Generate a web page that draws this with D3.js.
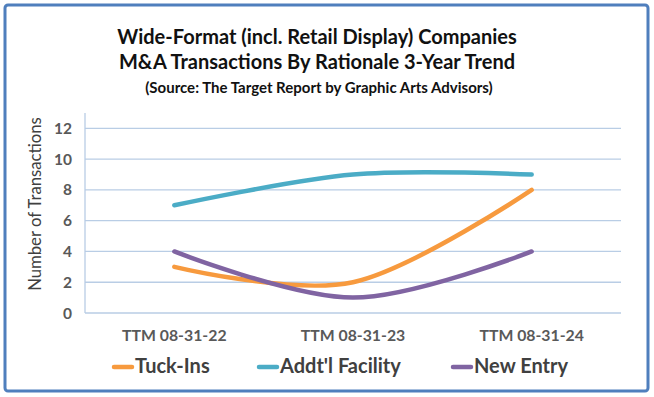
<!DOCTYPE html>
<html>
<head>
<meta charset="utf-8">
<script src="https://cdn.jsdelivr.net/npm/d3@7"></script>
<style>
  body { margin: 0; background: #fff; }
  svg { display: block; font-family: Lato, "Open Sans", sans-serif; }
</style>
</head>
<body>
<svg id="chart" width="654" height="397"></svg>
<script>
var categories = ["TTM 08-31-22", "TTM 08-31-23", "TTM 08-31-24"];
var seriesNames = ["Tuck-Ins", "Addt'l Facility", "New Entry"];
var tuckIns = [3, 2, 8];
var addtlFacility = [7, 9, 9];
var newEntry = [4, 1, 4];
var yTicks = [0, 2, 4, 6, 8, 10, 12];

var seriesVals = [tuckIns, addtlFacility, newEntry];
var colors = ["#f79a3e", "#4bacc6", "#8064a2"];

var svg = d3.select("#chart");

// outer frame
svg.append("rect")
	.attr("x", 5).attr("y", 5)
	.attr("width", 643).attr("height", 386)
	.attr("rx", 3)
	.attr("fill", "#fff")
	.attr("stroke", "#4f7fbd")
	.attr("stroke-width", 3);

// titles
var titleX = 317;
svg.append("text").attr("x", titleX).attr("y", 44)
	.attr("text-anchor", "middle").attr("font-size", 20).attr("font-weight", "bold")
	.attr("fill", "#111")
	.text("Wide-Format (incl. Retail Display) Companies");
svg.append("text").attr("x", titleX).attr("y", 68.5)
	.attr("text-anchor", "middle").attr("font-size", 20).attr("font-weight", "bold")
	.attr("fill", "#111")
	.text("M&A Transactions By Rationale 3-Year Trend");
svg.append("text").attr("x", titleX + 2).attr("y", 93)
	.attr("text-anchor", "middle").attr("font-size", 15).attr("font-weight", "bold")
	.attr("fill", "#111")
	.text("(Source: The Target Report by Graphic Arts Advisors)");

var x = d3.scalePoint()
	.domain(categories)
	.range([85, 621])
	.padding(0.5);

var y = d3.scaleLinear()
	.domain([0, 13])
	.range([313, 113]);

// gridlines
svg.append("g")
	.selectAll("line")
	.data(yTicks)
	.enter()
	.append("line")
	.attr("x1", 85).attr("x2", 621)
	.attr("y1", function(d) { return y(d); })
	.attr("y2", function(d) { return y(d); })
	.attr("stroke", "#b9cde5")
	.attr("stroke-width", 1.3);

// y axis line
svg.append("line")
	.attr("x1", 85).attr("x2", 85)
	.attr("y1", y(13)).attr("y2", y(0))
	.attr("stroke", "#b9cde5")
	.attr("stroke-width", 1.3);

// y tick labels
svg.append("g")
	.selectAll("text")
	.data(yTicks)
	.enter()
	.append("text")
	.attr("x", 72)
	.attr("y", function(d) { return y(d) + 5.5; })
	.attr("text-anchor", "end")
	.attr("font-size", 15.5).attr("font-weight", "bold")
	.attr("fill", "#595959")
	.text(function(d) { return d; });

// x labels
svg.append("g")
	.selectAll("text")
	.data(categories)
	.enter()
	.append("text")
	.attr("x", function(d) { return x(d); })
	.attr("y", 341)
	.attr("text-anchor", "middle")
	.attr("font-size", 15.8).attr("font-weight", "bold")
	.attr("fill", "#595959")
	.text(function(d) { return d; });

// y title
svg.append("text")
	.attr("transform", "translate(41,204) rotate(-90)")
	.attr("text-anchor", "middle")
	.attr("font-size", 16.7)
	.attr("fill", "#404040")
	.text("Number of Transactions");

// lines
var line = d3.line()
	.x(function(d, i) { return x(categories[i]); })
	.y(function(d) { return y(d); })
	.curve(d3.curveCatmullRom.alpha(0));

svg.append("g")
	.selectAll("path")
	.data(seriesVals)
	.enter()
	.append("path")
	.attr("d", function(d) { return line(d); })
	.attr("fill", "none")
	.attr("stroke", function(d, i) { return colors[i]; })
	.attr("stroke-width", 4.5)
	.attr("stroke-linecap", "round");

// legend
var legendX = [114, 259, 453];
var lg = svg.append("g")
	.selectAll("g")
	.data(seriesNames)
	.enter()
	.append("g")
	.attr("transform", function(d, i) { return "translate(" + legendX[i] + ",367)"; });
lg.append("line")
	.attr("x1", 0).attr("x2", 18)
	.attr("stroke", function(d, i) { return colors[i]; })
	.attr("stroke-width", 4.5)
	.attr("stroke-linecap", "round");
lg.append("text")
	.attr("x", 21).attr("y", 6)
	.attr("font-size", 20).attr("font-weight", "bold")
	.attr("fill", "#404040")
	.text(function(d) { return d; });
</script>
</body>
</html>
